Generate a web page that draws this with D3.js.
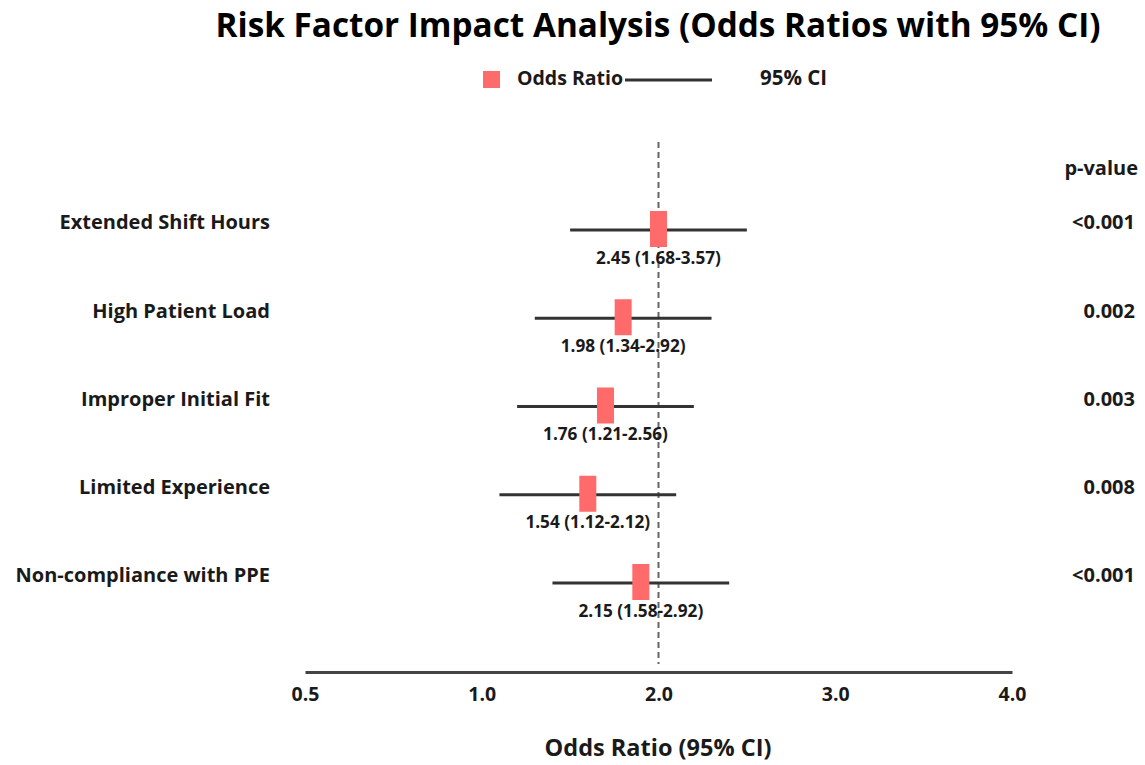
<!DOCTYPE html>
<html>
<head>
<meta charset="utf-8">
<script src="https://cdn.jsdelivr.net/npm/d3@7"></script>
<style>
  html, body { margin: 0; padding: 0; background: #fff; }
  svg { display: block; font-family: "Open Sans", "Noto Sans", sans-serif; font-weight: 700; }
</style>
</head>
<body>
<svg id="chart" width="1145" height="765"></svg>
<script>
// ---- data ----
const categories = ["Extended Shift Hours", "High Patient Load", "Improper Initial Fit", "Limited Experience", "Non-compliance with PPE"];
const oddsRatios = [2.45, 1.98, 1.76, 1.54, 2.15];
const ciLower = [1.68, 1.34, 1.21, 1.12, 1.58];
const ciUpper = [3.57, 2.92, 2.56, 2.12, 2.92];
const pValues = ["<0.001", "0.002", "0.003", "0.008", "<0.001"];
// plotted positions as drawn on the picture's axis
const plotOR = [2.0, 1.8, 1.7, 1.6, 1.9];
const plotLow = [1.5, 1.3, 1.2, 1.1, 1.4];
const plotHigh = [2.5, 2.3, 2.2, 2.1, 2.4];
const tickValues = [0.5, 1.0, 2.0, 3.0, 4.0];
const referenceValue = 2.0;

const rows = categories.map((c, i) => ({
  cat: c, or: oddsRatios[i], lo: ciLower[i], hi: ciUpper[i], p: pValues[i],
  pOR: plotOR[i], pLo: plotLow[i], pHi: plotHigh[i]
}));

const svg = d3.select("#chart");
const x0 = 305, x1 = 1012;

const x = d3.scaleLinear()
  .domain(tickValues)
  .range(tickValues.map((d, i) => x0 + i * (x1 - x0) / (tickValues.length - 1)));

const y = d3.scalePoint().domain(categories).range([229, 582]);

const red = "#ff6b6b", dark = "#1a1a1a", lineC = "#333";

// title
svg.append("text").attr("x", 658).attr("y", 28)
  .attr("text-anchor", "middle").attr("dominant-baseline", "middle")
  .attr("font-size", 33.3).attr("fill", "#000")
  .text("Risk Factor Impact Analysis (Odds Ratios with 95% CI)");

// legend
svg.append("rect").attr("x", 483).attr("y", 71).attr("width", 17).attr("height", 17).attr("fill", red);
svg.append("text").attr("x", 517).attr("y", 80).attr("dominant-baseline", "middle")
  .attr("font-size", 19.5).attr("fill", dark).text("Odds Ratio");
svg.append("line").attr("x1", 625).attr("x2", 712).attr("y1", 80).attr("y2", 80)
  .attr("stroke", lineC).attr("stroke-width", 3);
svg.append("text").attr("x", 760).attr("y", 80).attr("dominant-baseline", "middle")
  .attr("font-size", 20.5).attr("fill", dark).text("95% CI");

// reference dashed line
svg.append("line").attr("x1", x(referenceValue)).attr("x2", x(referenceValue))
  .attr("y1", 142).attr("y2", 664)
  .attr("stroke", "#666").attr("stroke-width", 2).attr("stroke-dasharray", "6,4");

// p-value header
svg.append("text").attr("x", 1138).attr("y", 170).attr("text-anchor", "end")
  .attr("dominant-baseline", "middle").attr("font-size", 20).attr("fill", dark).text("p-value");

const g = svg.selectAll("g.row").data(rows).enter().append("g").attr("class", "row");

g.append("text").attr("x", 270).attr("y", d => y(d.cat) - 5)
  .attr("text-anchor", "end").attr("dominant-baseline", "middle")
  .attr("font-size", 20).attr("fill", dark).text(d => d.cat);

g.append("line").attr("x1", d => x(d.pLo)).attr("x2", d => x(d.pHi))
  .attr("y1", d => y(d.cat) + 1).attr("y2", d => y(d.cat) + 1)
  .attr("stroke", lineC).attr("stroke-width", 3);

g.append("rect").attr("x", d => x(d.pOR) - 8.5).attr("y", d => y(d.cat) - 18)
  .attr("width", 17).attr("height", 36).attr("fill", red);

g.append("text").attr("x", d => x(d.pOR)).attr("y", d => y(d.cat) + 30)
  .attr("text-anchor", "middle").attr("dominant-baseline", "middle")
  .attr("font-size", 17.2).attr("fill", dark)
  .text(d => `${d.or.toFixed(2)} (${d.lo.toFixed(2)}-${d.hi.toFixed(2)})`);

g.append("text").attr("x", 1135).attr("y", d => y(d.cat) - 5)
  .attr("text-anchor", "end").attr("dominant-baseline", "middle")
  .attr("font-size", 20).attr("fill", dark).text(d => d.p);

// x axis
const axis = svg.append("g").attr("transform", "translate(0,672)")
  .call(d3.axisBottom(x).tickValues(tickValues).tickFormat(d3.format(".1f")).tickSize(0).tickPadding(15));
axis.select(".domain").attr("stroke", "#444").attr("stroke-width", 3);
axis.selectAll("text").attr("font-size", 19.5).attr("fill", dark)
  .attr("font-family", "'Open Sans', sans-serif").attr("font-weight", 700);

svg.append("text").attr("x", 658).attr("y", 750).attr("text-anchor", "middle")
  .attr("dominant-baseline", "middle").attr("font-size", 23.5).attr("fill", dark)
  .text("Odds Ratio (95% CI)");
</script>
</body>
</html>
